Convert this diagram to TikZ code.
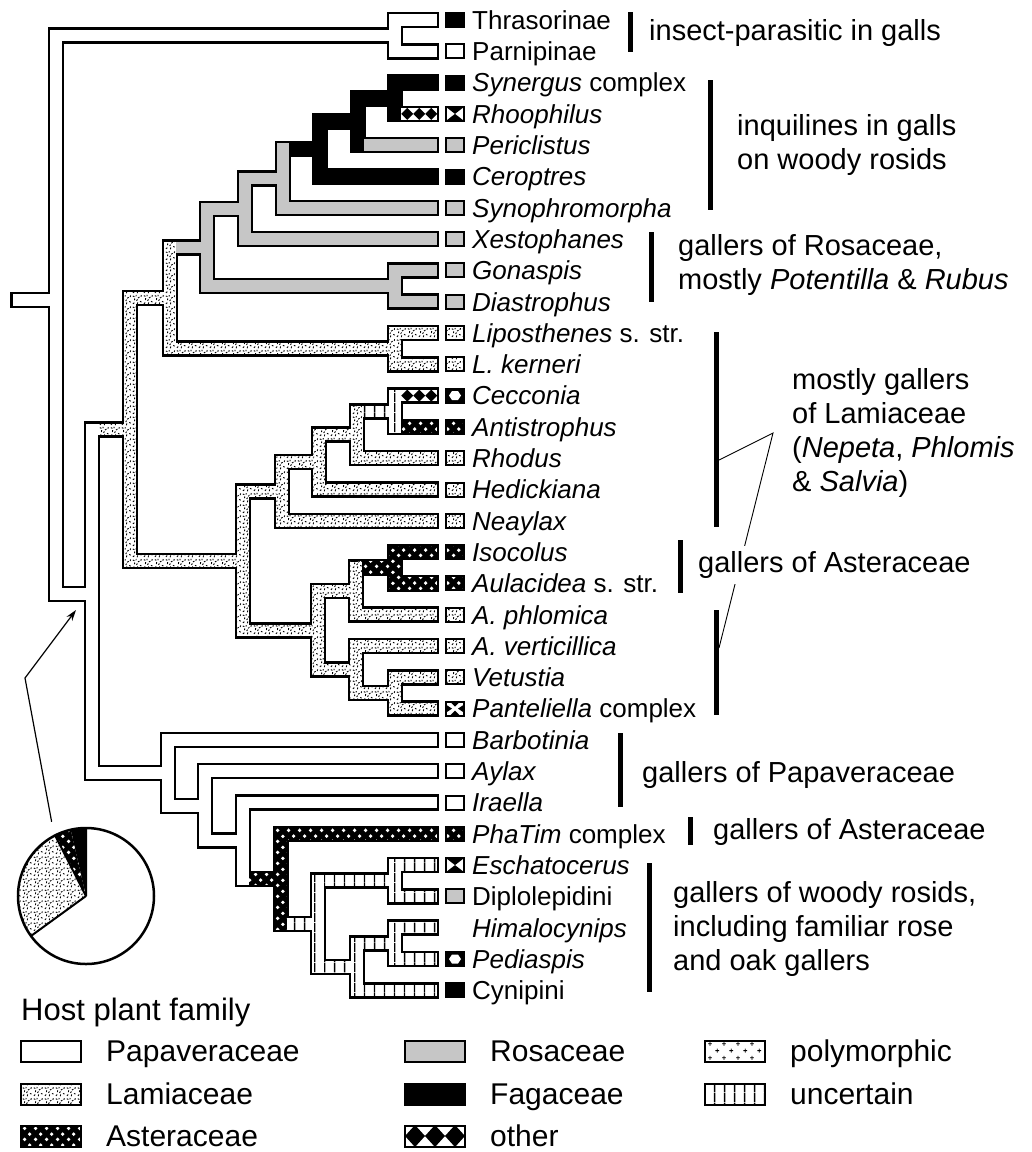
\documentclass[tikz,border=0pt]{standalone}
\usepackage{fontspec}
\setmainfont{Liberation Sans}
\usetikzlibrary{calc,positioning,patterns,arrows.meta}

\pgfdeclarepatternformonly{speckle}{\pgfpointorigin}{\pgfpoint{11pt}{11pt}}{\pgfpoint{11pt}{11pt}}{%
  \pgfsetlinewidth{0.95pt}%
  \pgfpathmoveto{\pgfpoint{1pt}{1.2pt}}\pgfpathlineto{\pgfpoint{2.4pt}{2.6pt}}%
  \pgfpathmoveto{\pgfpoint{5.6pt}{0.8pt}}\pgfpathlineto{\pgfpoint{6.1pt}{2.7pt}}%
  \pgfpathmoveto{\pgfpoint{8.6pt}{3.8pt}}\pgfpathlineto{\pgfpoint{10.2pt}{3.1pt}}%
  \pgfpathmoveto{\pgfpoint{2.6pt}{5.2pt}}\pgfpathlineto{\pgfpoint{2.9pt}{7.1pt}}%
  \pgfpathmoveto{\pgfpoint{6.4pt}{7.3pt}}\pgfpathlineto{\pgfpoint{8pt}{8.3pt}}%
  \pgfpathmoveto{\pgfpoint{9.6pt}{8.6pt}}\pgfpathlineto{\pgfpoint{10pt}{10.4pt}}%
  \pgfpathmoveto{\pgfpoint{0.9pt}{9.8pt}}\pgfpathlineto{\pgfpoint{2.5pt}{9pt}}%
  \pgfpathmoveto{\pgfpoint{4.9pt}{4.3pt}}\pgfpathlineto{\pgfpoint{5.8pt}{5.8pt}}%
  \pgfpathmoveto{\pgfpoint{4.2pt}{9.2pt}}\pgfpathlineto{\pgfpoint{4.5pt}{10.6pt}}%
  \pgfusepath{stroke}}
\pgfdeclarepatternformonly{bigdots}{\pgfpointorigin}{\pgfpoint{11pt}{11pt}}{\pgfpoint{11pt}{11pt}}{%
  \pgfpathcircle{\pgfpoint{2.75pt}{2.75pt}}{2pt}%
  \pgfpathcircle{\pgfpoint{8.25pt}{8.25pt}}{2pt}%
  \pgfusepath{fill}}
\pgfdeclarepatternformonly{vstripes}{\pgfpointorigin}{\pgfpoint{10pt}{10pt}}{\pgfpoint{10pt}{10pt}}{%
  \pgfpathrectangle{\pgfpoint{4.3pt}{0pt}}{\pgfpoint{1.4pt}{10pt}}%
  \pgfusepath{fill}}
\pgfdeclarepatternformonly{plusses}{\pgfpointorigin}{\pgfpoint{14pt}{14pt}}{\pgfpoint{14pt}{14pt}}{%
  \pgfsetlinewidth{0.8pt}%
  \pgfpathmoveto{\pgfpoint{1.5pt}{3.5pt}}\pgfpathlineto{\pgfpoint{5.5pt}{3.5pt}}%
  \pgfpathmoveto{\pgfpoint{3.5pt}{1.5pt}}\pgfpathlineto{\pgfpoint{3.5pt}{5.5pt}}%
  \pgfpathmoveto{\pgfpoint{8.5pt}{10.5pt}}\pgfpathlineto{\pgfpoint{12.5pt}{10.5pt}}%
  \pgfpathmoveto{\pgfpoint{10.5pt}{8.5pt}}\pgfpathlineto{\pgfpoint{10.5pt}{12.5pt}}%
  \pgfusepath{stroke}}

\newcommand\tubeo{8.25}
\newcommand\tubei{5.75}

\newcommand\taxon[4]{%
  \coordinate (#1) at (431,#2);
  \node[tip,#3] (#1-b) at (455,#2) {};
  \node[lab,right=7pt of #1-b] (#1-l) {#4};}

\newcommand\cyntree{%
  \brh{pap}{stub}{root}
  \brv{pap}{root}{thr}{L}
  \brh{pap}{root}{thr}
  \brv{pap}{thr}{thras}{parn}
  \brh{pap}{thr}{thras}
  \brh{pap}{thr}{parn}
  \brh{pap}{root}{L}
  \brv{pap}{L}{J}{V}
  \brh{lam}{L}{J}
  \brv{lam}{J}{H}{K}
  \brh{lam}{J}{H}
  \brv{lam}{H}{F}{I}
  \brh{ros}{H}{F}
  \brv{ros}{F}{E}{G}
  \brh{ros}{F}{E}
  \brv{ros}{E}{D}{xest}
  \brh{ros}{E}{D}
  \brh{ros}{E}{xest}
  \brv{ros}{D}{C}{synop}
  \brh{fag}{D}{C}
  \brh{ros}{D}{synop}
  \brv{fag}{C}{B}{cero}
  \brh{fag}{C}{B}
  \brh{fag}{C}{cero}
  \brv{fag}{B}{A}{peri}
  \brh{fag}{B}{A}
  \brh{ros}{B}{peri}
  \brv{fag}{A}{syn}{rhoo}
  \brh{fag}{A}{syn}
  \brh{oth}{A}{rhoo}
  \brh{ros}{F}{G}
  \brv{ros}{G}{gona}{dias}
  \brh{ros}{G}{gona}
  \brh{ros}{G}{dias}
  \brh{lam}{H}{I}
  \brv{lam}{I}{lipo}{lker}
  \brh{lam}{I}{lipo}
  \brh{lam}{I}{lker}
  \brh{lam}{J}{K}
  \brv{lam}{K}{M}{N}
  \brh{lam}{K}{M}
  \brv{lam}{M}{O}{neay}
  \brh{lam}{M}{O}
  \brh{lam}{M}{neay}
  \brv{lam}{O}{P}{hedi}
  \brh{lam}{O}{P}
  \brh{lam}{O}{hedi}
  \brv{lam}{P}{Q}{rhod}
  \brh{unc}{P}{Q}
  \brh{lam}{P}{rhod}
  \brv{unc}{Q}{cecc}{anti}
  \brh{oth}{Q}{cecc}
  \brh{ast}{Q}{anti}
  \brh{lam}{K}{N}
  \brv{lam}{N}{R}{S}
  \brh{lam}{N}{R}
  \brv{lam}{R}{T}{aphl}
  \brh{ast}{R}{T}
  \brh{lam}{R}{aphl}
  \brv{ast}{T}{isoc}{aula}
  \brh{ast}{T}{isoc}
  \brh{ast}{T}{aula}
  \brh{lam}{N}{S}
  \brv{lam}{S}{aver}{U}
  \brh{lam}{S}{aver}
  \brh{lam}{S}{U}
  \brv{lam}{U}{vetu}{pant}
  \brh{lam}{U}{vetu}
  \brh{lam}{U}{pant}
  \brh{pap}{L}{V}
  \brv{pap}{V}{barb}{W}
  \brh{pap}{V}{barb}
  \brh{pap}{V}{W}
  \brv{pap}{W}{ayla}{X}
  \brh{pap}{W}{ayla}
  \brh{pap}{W}{X}
  \brv{pap}{X}{irae}{Y}
  \brh{pap}{X}{irae}
  \brh{ast}{X}{Y}
  \brv{ast}{Y}{phat}{Z}
  \brh{ast}{Y}{phat}
  \brh{unc}{Y}{Z}
  \brv{unc}{Z}{Z1}{Z2}
  \brh{unc}{Z}{Z1}
  \brv{unc}{Z1}{esch}{dipl}
  \brh{unc}{Z1}{esch}
  \brh{unc}{Z1}{dipl}
  \brh{unc}{Z}{Z2}
  \brv{unc}{Z2}{Z3}{cyni}
  \brh{unc}{Z2}{Z3}
  \brh{unc}{Z2}{cyni}
  \brv{unc}{Z3}{hima}{pedi}
  \brh{unc}{Z3}{hima}
  \brh{unc}{Z3}{pedi}}

\begin{document}
\begin{tikzpicture}[x=1pt,y=-1pt,
    pap/.style={fill=white},
    lam/.style={preaction={fill=white},pattern=speckle},
    ros/.style={fill=gray!45},
    fag/.style={fill=black},
    ast/.style={preaction={fill=black},pattern=bigdots,pattern color=white},
    unc/.style={preaction={fill=white},pattern=vstripes},
    pol/.style={preaction={fill=white},pattern=plusses},
    oth/.style={fill=white,path picture={
        \foreach \k in {0,...,8} {\fill[black] ($(path picture bounding box.west)+(\k*12,0)$) -- ++(6,6) -- ++(6,-6) -- ++(-6,-6) -- cycle;}}},
    legoth/.style={fill=white,path picture={
        \foreach \k in {0,...,3} {\fill[black] ($(path picture bounding box.west)+(\k*20,0)$) -- ++(10,11) -- ++(10,-11) -- ++(-10,-11) -- cycle;}}},
    hour/.style={fill=white,path picture={
        \fill[black] (path picture bounding box.north west) -- (path picture bounding box.north east) -- (path picture bounding box.center) -- cycle
              (path picture bounding box.south west) -- (path picture bounding box.south east) -- (path picture bounding box.center) -- cycle;}},
    hexa/.style={fill=black,path picture={
        \fill[white] ($(path picture bounding box.center)+(-6,0)$) -- ++(3,-4.5) -- ++(6,0) -- ++(3,4.5) -- ++(-3,4.5) -- ++(-6,0) -- cycle;}},
    mixd/.style={fill=white,path picture={
        \fill[black] (path picture bounding box.north) ++(-5,0) -- ++(10,0) -- ++(-5,5) -- cycle
              (path picture bounding box.south) ++(-5,0) -- ++(10,0) -- ++(-5,-5) -- cycle
              (path picture bounding box.west) ++(0,-4) -- ++(0,8) -- ++(6,-4) -- cycle
              (path picture bounding box.east) ++(0,-4) -- ++(0,8) -- ++(-6,-4) -- cycle;}},
    nobox/.style={draw=none},
    tip/.style={draw,line width=2pt,minimum width=18pt,minimum height=14pt,inner sep=0pt},
    lab/.style={inner sep=0pt,text height=24pt,text depth=5.4pt,font=\fontsize{26}{30}\selectfont},
    ann/.style={anchor=west,align=left,inner sep=0pt,font=\fontsize{29}{34}\selectfont},
    bar/.style={line width=5pt},
    legbox/.style={draw,line width=2pt,minimum width=60pt,minimum height=21pt,inner sep=0pt},
    legt/.style={inner sep=0pt,text height=28pt,text depth=6.5pt,font=\fontsize{30}{36}\selectfont}]
    % \draw[help lines,step=50] (0,0) grid (1032,1152);
    \useasboundingbox (0,0) rectangle (1032,1152);

    \coordinate (stub) at (18.25,300);
    \coordinate (root) at (56,300);
    \coordinate (thr) at (395,35.65);
    \coordinate (L) at (92,594);
    \coordinate (J) at (130,429.4);
    \coordinate (H) at (170,298);
    \coordinate (F) at (207,247.4);
    \coordinate (E) at (245,208.8);
    \coordinate (D) at (283,178.5);
    \coordinate (C) at (320,149.1);
    \coordinate (B) at (358,121.7);
    \coordinate (A) at (395,98.25);
    \coordinate (G) at (395,286);
    \coordinate (I) at (395,348.7);
    \coordinate (K) at (243,560.9);
    \coordinate (M) at (282,491.4);
    \coordinate (O) at (319,462.1);
    \coordinate (P) at (357,434.7);
    \coordinate (Q) at (395,411.3);
    \coordinate (N) at (318,630.4);
    \coordinate (R) at (356,591.2);
    \coordinate (T) at (395,567.7);
    \coordinate (S) at (356,669.5);
    \coordinate (U) at (395,693);
    \coordinate (V) at (168,772.9);
    \coordinate (W) at (205,805.9);
    \coordinate (X) at (243,840.6);
    \coordinate (Y) at (281,878.8);
    \coordinate (Z) at (318,923.8);
    \coordinate (Z1) at (395,880.7);
    \coordinate (Z2) at (357,966.8);
    \coordinate (Z3) at (395,943.3);

    \taxon{thras}{20}{fag}{Thrasorinae}
    \taxon{parn}{51.3}{pap}{Parnipinae}
    \taxon{syn}{82.6}{fag}{\textit{Synergus} complex}
    \taxon{rhoo}{113.9}{hour}{\textit{Rhoophilus}}
    \taxon{peri}{145.2}{ros}{\textit{Periclistus}}
    \taxon{cero}{176.5}{fag}{\textit{Ceroptres}}
    \taxon{synop}{207.8}{ros}{\textit{Synophromorpha}}
    \taxon{xest}{239.1}{ros}{\textit{Xestophanes}}
    \taxon{gona}{270.4}{ros}{\textit{Gonaspis}}
    \taxon{dias}{301.7}{ros}{\textit{Diastrophus}}
    \taxon{lipo}{333}{lam}{\textit{Liposthenes} s. str.}
    \taxon{lker}{364.3}{lam}{\textit{L. kerneri}}
    \taxon{cecc}{395.6}{hexa}{\textit{Cecconia}}
    \taxon{anti}{426.9}{ast}{\textit{Antistrophus}}
    \taxon{rhod}{458.2}{lam}{\textit{Rhodus}}
    \taxon{hedi}{489.5}{lam}{\textit{Hedickiana}}
    \taxon{neay}{520.8}{lam}{\textit{Neaylax}}
    \taxon{isoc}{552.1}{ast}{\textit{Isocolus}}
    \taxon{aula}{583.4}{ast}{\textit{Aulacidea} s. str.}
    \taxon{aphl}{614.7}{lam}{\textit{A. phlomica}}
    \taxon{aver}{646}{lam}{\textit{A. verticillica}}
    \taxon{vetu}{677.3}{lam}{\textit{Vetustia}}
    \taxon{pant}{708.6}{mixd}{\textit{Panteliella} complex}
    \taxon{barb}{739.9}{pap}{\textit{Barbotinia}}
    \taxon{ayla}{771.2}{pap}{\textit{Aylax}}
    \taxon{irae}{802.5}{pap}{\textit{Iraella}}
    \taxon{phat}{833.8}{ast}{\textit{PhaTim} complex}
    \taxon{esch}{865.1}{hour}{\textit{Eschatocerus}}
    \taxon{dipl}{896.4}{ros}{Diplolepidini}
    \taxon{hima}{927.7}{nobox}{\textit{Himalocynips}}
    \taxon{pedi}{959}{hexa}{\textit{Pediaspis}}
    \taxon{cyni}{990.3}{fag}{Cynipini}

    % outlines, then branch fills, then node fills
    \def\brh#1#2#3{\fill ($(#2|-#3)+(-\tubeo,-\tubeo)$) rectangle ($(#3)+(\tubeo,\tubeo)$);}
    \def\brv#1#2#3#4{\fill ($(#2|-#3)+(-\tubeo,-\tubeo)$) rectangle ($(#2|-#4)+(\tubeo,\tubeo)$);}
    \cyntree
    \def\brh#1#2#3{\fill[#1] ($(#2|-#3)+(-\tubei,-\tubei)$) rectangle ($(#3)+(\tubei,\tubei)$);}
    \def\brv#1#2#3#4{}
    \cyntree
    \def\brh#1#2#3{}
    \def\brv#1#2#3#4{\fill[#1] ($(#2|-#3)+(-\tubei,-\tubei)$) rectangle ($(#2|-#4)+(\tubei,\tubei)$);}
    \cyntree

    \draw[bar] (630,12) -- (630,52);
    \draw[bar] (710,80) -- (710,210);
    \draw[bar] (651,232) -- (651,302);
    \draw[bar] (716,332) -- (716,527);
    \draw[bar] (680,540) -- (680,593);
    \draw[bar] (716,610) -- (716,715);
    \draw[bar] (620,733) -- (620,807);
    \draw[bar] (690,817) -- (690,845);
    \draw[bar] (649,863) -- (649,992);

    \coordinate (lam-a) at (719,460);
    \coordinate (lam-b) at (773,433);
    \coordinate (lam-c) at (719,648);
    \draw[line width=0.9pt] (lam-a) -- (lam-b) -- (lam-c);

    \node[ann] (a-ins) at (649,33) {insect-parasitic in galls};
    \node[ann] (a-inq) at (737,145) {inquilines in galls\\on woody rosids};
    \node[ann] (a-ros) at (678,265) {gallers of Rosaceae,\\mostly \textit{Potentilla} \& \textit{Rubus}};
    \node[ann] (a-lam) at (792,433) {mostly gallers\\of Lamiaceae\\(\textit{Nepeta}, \textit{Phlomis}\\\& \textit{Salvia})};
    \node[ann,fill=white,inner ysep=5pt] (a-ast1) at (698,565) {gallers of Asteraceae};
    \node[ann] (a-pap) at (642,775) {gallers of Papaveraceae};
    \node[ann] (a-ast2) at (713,832) {gallers of Asteraceae};
    \node[ann] (a-woo) at (673,929) {gallers of woody rosids,\\including familiar rose\\and oak gallers};

    \coordinate (pie-c) at (86,896);
    \begin{scope}[shift={(pie-c)},y=1pt]
        \fill[fag] (0,0) -- (90:68) arc[start angle=90,end angle=103,radius=68] -- cycle;
        \fill[ast] (0,0) -- (103:68) arc[start angle=103,end angle=117,radius=68] -- cycle;
        \fill[lam] (0,0) -- (117:68) arc[start angle=117,end angle=216,radius=68] -- cycle;
        \draw[line width=2pt] (0,0) -- (90:68) (0,0) -- (117:68) (0,0) -- (216:68);
    \end{scope}
    \node[circle,draw,line width=2.5pt,minimum size=136pt,inner sep=0pt] (pie) at (pie-c) {};
    \coordinate (kink) at (25,678);
    \coordinate (ptr) at (76,610);
    \draw[line width=1.2pt,-{Stealth[length=11pt,width=7pt]}] ([shift={(-4,-12)}]pie.116) -- (kink) -- (ptr);

    \node[anchor=west,inner sep=0pt,font=\fontsize{31}{36}\selectfont] (leg) at (21,1012) {Host plant family};
    \node[legbox,pap] (k-pap) at (51,1051) {};
    \node[legt,right=24pt of k-pap] {Papaveraceae};
    \node[legbox,lam] (k-lam) at (51,1094) {};
    \node[legt,right=24pt of k-lam] {Lamiaceae};
    \node[legbox,ast] (k-ast) at (51,1136) {};
    \node[legt,right=24pt of k-ast] {Asteraceae};
    \node[legbox,ros] (k-ros) at (435,1051) {};
    \node[legt,right=24pt of k-ros] {Rosaceae};
    \node[legbox,fag] (k-fag) at (435,1094) {};
    \node[legt,right=24pt of k-fag] {Fagaceae};
    \node[legbox,legoth] (k-oth) at (435,1136) {};
    \node[legt,right=24pt of k-oth] {other};
    \node[legbox,pol] (k-pol) at (735,1051) {};
    \node[legt,right=24pt of k-pol] {polymorphic};
    \node[legbox,unc] (k-unc) at (735,1094) {};
    \node[legt,right=24pt of k-unc] {uncertain};
\end{tikzpicture}
\end{document}
